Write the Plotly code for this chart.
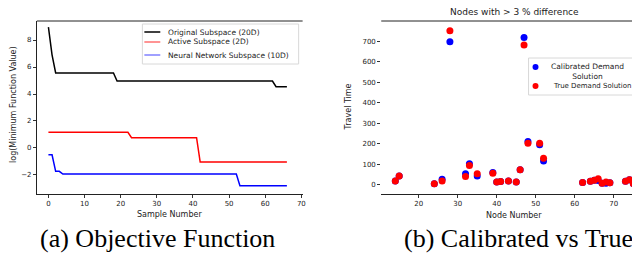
import plotly.graph_objects as go

# ---- Data: left panel (objective function breakpoints) ----
orig_x = [0, 1, 2, 18, 19, 62, 63, 66]
orig_y = [8.95, 6.9, 5.56, 5.56, 4.96, 4.96, 4.54, 4.54]
active_x = [0, 22, 23, 41, 42, 66]
active_y = [1.16, 1.16, 0.76, 0.76, -1.04, -1.04]
nn_x = [0, 1, 2, 3, 4, 52, 53, 66]
nn_y = [-0.5, -0.5, -1.73, -1.73, -1.93, -1.93, -2.79, -2.79]

# ---- Data: right panel (travel time per node) ----
nodes = [14, 15, 24, 26, 28, 32, 33, 35, 39, 40, 41, 43, 45, 46, 47, 48, 51, 52,
         62, 64, 65, 66, 67, 68, 69, 73, 74, 75]
calibrated = [19, 43, 5, 27, 698, 54, 103, 43, 60, 13, 16, 19, 14, 73, 719, 211, 195, 116,
              11, 17, 22, 21, 8, 8, 10, 17, 25, 5]
true_sol = [19, 43, 5, 19, 752, 40, 94, 54, 56, 13, 16, 19, 14, 73, 682, 202, 202, 130,
            11, 17, 22, 29, 8, 14, 10, 17, 25, 5]

left_xticks = [0, 10, 20, 30, 40, 50, 60, 70]
left_yticks = [-2, 0, 2, 4, 6, 8]
right_xticks = [20, 30, 40, 50, 60, 70]
right_yticks = [0, 100, 200, 300, 400, 500, 600, 700]

W, H = 640, 255
def px(x): return x / W
def py(y): return 1 - y / H

TICKF = dict(family="DejaVu Sans", size=7, color="#222")
LBLF = dict(family="DejaVu Sans", size=8, color="#222")

fig = go.Figure()
fig.add_trace(go.Scatter(x=orig_x, y=orig_y, mode="lines", line=dict(color="black", width=1.5),
                         xaxis="x", yaxis="y", showlegend=False))
fig.add_trace(go.Scatter(x=active_x, y=active_y, mode="lines", line=dict(color="red", width=1.5),
                         xaxis="x", yaxis="y", showlegend=False))
fig.add_trace(go.Scatter(x=nn_x, y=nn_y, mode="lines", line=dict(color="blue", width=1.5),
                         xaxis="x", yaxis="y", showlegend=False))
fig.add_trace(go.Scatter(x=nodes, y=calibrated, mode="markers", marker=dict(color="blue", size=7),
                         xaxis="x2", yaxis="y2", showlegend=False))
fig.add_trace(go.Scatter(x=nodes, y=true_sol, mode="markers", marker=dict(color="red", size=7),
                         xaxis="x2", yaxis="y2", showlegend=False))

axcommon = dict(showgrid=False, zeroline=False, ticks="outside", ticklen=3, tickwidth=1,
                tickcolor="#333", tickfont=TICKF)
fig.update_layout(
    width=W, height=H, margin=dict(l=0, r=0, t=0, b=0),
    paper_bgcolor="white", plot_bgcolor="white",
    xaxis=dict(domain=[px(29), px(296)], range=[-3.2, 70.35], tickvals=left_xticks,
               showline=True, linecolor="#222", linewidth=1, anchor="y", **axcommon),
    yaxis=dict(domain=[py(186), py(13)], range=[-3.41, 9.41], tickvals=left_yticks,
               tickformat="d", showline=True, linecolor="#222", linewidth=1, anchor="x",
               **axcommon),
    xaxis2=dict(domain=[px(375), 1.0], range=[10.4, 78.0], tickvals=right_xticks,
                showline=True, linecolor="#222", linewidth=1, anchor="y2", **axcommon),
    yaxis2=dict(domain=[py(186), py(13)], range=[-45, 799], tickvals=right_yticks,
                showline=False, anchor="x2", **axcommon),
)

shapes = [
    # top spines
    dict(type="line", xref="paper", yref="paper", x0=px(29), x1=px(296), y0=py(13), y1=py(13),
         line=dict(color="#222", width=1)),
    dict(type="line", xref="paper", yref="paper", x0=px(375), x1=1.0, y0=py(13), y1=py(13),
         line=dict(color="#222", width=1)),
    # left legend box
    dict(type="rect", xref="paper", yref="paper", x0=px(135), x1=px(292), y0=py(56), y1=py(16),
         line=dict(color="#d8d8d8", width=1), fillcolor="rgba(255,255,255,0.85)"),
    dict(type="line", xref="paper", yref="paper", x0=px(137), x1=px(153), y0=py(24), y1=py(24),
         line=dict(color="black", width=1.5)),
    dict(type="line", xref="paper", yref="paper", x0=px(137), x1=px(153), y0=py(34), y1=py(34),
         line=dict(color="#ff7070", width=1.5)),
    dict(type="line", xref="paper", yref="paper", x0=px(137), x1=px(153), y0=py(47), y1=py(47),
         line=dict(color="#8080ff", width=1.5)),
    # right legend box
    dict(type="rect", xref="paper", yref="paper", x0=px(523), x1=px(638), y0=py(87), y1=py(50),
         line=dict(color="#d8d8d8", width=1), fillcolor="rgba(255,255,255,0.85)"),
    dict(type="circle", xref="paper", yref="paper", x0=px(527), x1=px(533), y0=py(62), y1=py(56),
         line=dict(color="blue", width=0), fillcolor="blue"),
    dict(type="circle", xref="paper", yref="paper", x0=px(527), x1=px(533), y0=py(81), y1=py(75),
         line=dict(color="red", width=0), fillcolor="red"),
]

LEGF = dict(family="DejaVu Sans", size=7.5, color="#222")
ann = [
    dict(text="Original Subspace (20D)", x=px(159), y=py(24), xanchor="left", yanchor="middle", font=LEGF),
    dict(text="Active Subspace (2D)", x=px(159), y=py(34), xanchor="left", yanchor="middle", font=LEGF),
    dict(text="Neural Network Subspace (10D)", x=px(159), y=py(47), xanchor="left", yanchor="middle", font=LEGF),
    dict(text="Calibrated Demand<br>Solution", x=px(582), y=py(63), xanchor="center", yanchor="middle",
         font=LEGF, align="center"),
    dict(text="True Demand Solution", x=px(587), y=py(78), xanchor="center", yanchor="middle",
         font=dict(family="DejaVu Sans", size=7, color="#222")),
    dict(text="Sample Number", x=px(162), y=py(206), xanchor="center", yanchor="middle", font=LBLF),
    dict(text="log(Minimum Function Value)", x=px(5), y=py(96), xanchor="center", yanchor="middle",
         textangle=-90, font=LBLF),
    dict(text="Node Number", x=px(508), y=py(207), xanchor="center", yanchor="middle", font=LBLF),
    dict(text="Travel Time", x=px(343), y=py(99), xanchor="center", yanchor="middle",
         textangle=-90, font=LBLF),
    dict(text="Nodes with > 3 % difference", x=px(509), y=py(4), xanchor="center", yanchor="middle",
         font=dict(family="DejaVu Sans", size=9, color="#222")),
    dict(text="(a) Objective Function", x=px(150), y=py(230), xanchor="center", yanchor="middle",
         font=dict(family="Liberation Serif", size=26, color="black")),
    dict(text="(b) Calibrated vs True", x=px(513), y=py(230), xanchor="center", yanchor="middle",
         font=dict(family="Liberation Serif", size=26, color="black")),
]
for a in ann:
    a.update(xref="paper", yref="paper", showarrow=False)

fig.update_layout(shapes=shapes, annotations=ann)
fig.write_html("out.html")
